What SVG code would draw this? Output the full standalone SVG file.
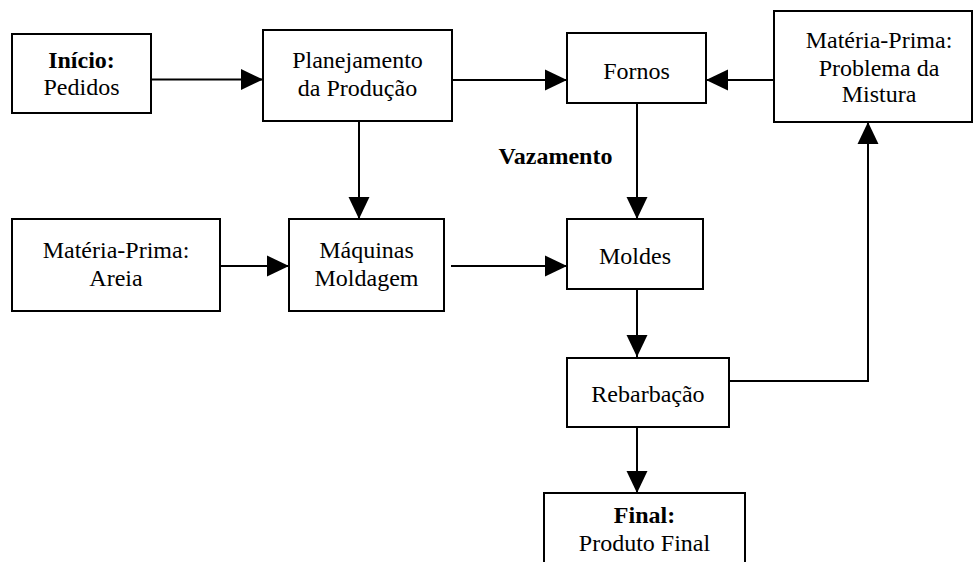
<svg xmlns="http://www.w3.org/2000/svg" width="973" height="562" viewBox="0 0 973 562" font-family="Liberation Serif, Times New Roman, serif" font-size="24">
<style>
.box{fill:#fff;stroke:#000;stroke-width:2}
.t{fill:#000;text-anchor:middle}
.b{font-weight:bold}
.c{fill:none;stroke:#000;stroke-width:2}
</style>
<defs>
<marker id="ah" markerUnits="userSpaceOnUse" markerWidth="22" markerHeight="22" viewBox="0 0 21 20" refX="21" refY="10" orient="auto">
<path d="M0,0 L21,10 L0,20 Z" fill="#000"/>
</marker>
</defs>
<rect width="973" height="562" fill="#fff"/>
<g id="connectors">
<path class="c" d="M151,79.5 H263" marker-end="url(#ah)"/>
<path class="c" d="M452,80 H567" marker-end="url(#ah)"/>
<path class="c" d="M774,80 H706" marker-end="url(#ah)"/>
<path class="c" d="M359,121 V219" marker-end="url(#ah)"/>
<path class="c" d="M220,266 H289" marker-end="url(#ah)"/>
<path class="c" d="M451,266 H567" marker-end="url(#ah)"/>
<path class="c" d="M637,103 V219" marker-end="url(#ah)"/>
<path class="c" d="M637,289 V357" marker-end="url(#ah)"/>
<path class="c" d="M729,381 H868 V122" marker-end="url(#ah)"/>
<path class="c" d="M637,427 V493" marker-end="url(#ah)"/>
</g>
<g id="inicio">
<rect class="box" x="12" y="34" width="139" height="79"/>
<text class="t b" x="81.5" y="68">Início:</text>
<text class="t" x="81.5" y="95">Pedidos</text>
</g>
<g id="planejamento">
<rect class="box" x="263" y="30" width="189" height="91"/>
<text class="t" x="357.5" y="68">Planejamento</text>
<text class="t" x="357.5" y="96">da Produção</text>
</g>
<g id="fornos">
<rect class="box" x="567" y="33" width="139" height="70"/>
<text class="t" x="636.5" y="79">Fornos</text>
</g>
<g id="mistura">
<rect class="box" x="774" y="11" width="198" height="111"/>
<text class="t" x="879" y="48">Matéria-Prima:</text>
<text class="t" x="879" y="76">Problema da</text>
<text class="t" x="879" y="102">Mistura</text>
</g>
<g id="areia">
<rect class="box" x="12" y="219" width="208" height="92"/>
<text class="t" x="116" y="258">Matéria-Prima:</text>
<text class="t" x="116" y="286">Areia</text>
</g>
<g id="maquinas">
<rect class="box" x="289" y="219" width="155" height="92"/>
<text class="t" x="366.5" y="258">Máquinas</text>
<text class="t" x="366.5" y="286">Moldagem</text>
</g>
<g id="vazamento">
<text class="t b" x="555.5" y="164">Vazamento</text>
</g>
<g id="moldes">
<rect class="box" x="567" y="219" width="136" height="70"/>
<text class="t" x="635" y="264">Moldes</text>
</g>
<g id="rebarbacao">
<rect class="box" x="567" y="358" width="162" height="69"/>
<text class="t" x="648" y="402">Rebarbação</text>
</g>
<g id="final">
<rect class="box" x="544" y="493" width="201" height="90"/>
<text class="t b" x="644.5" y="523">Final:</text>
<text class="t" x="644.5" y="551">Produto Final</text>
</g>
</svg>
